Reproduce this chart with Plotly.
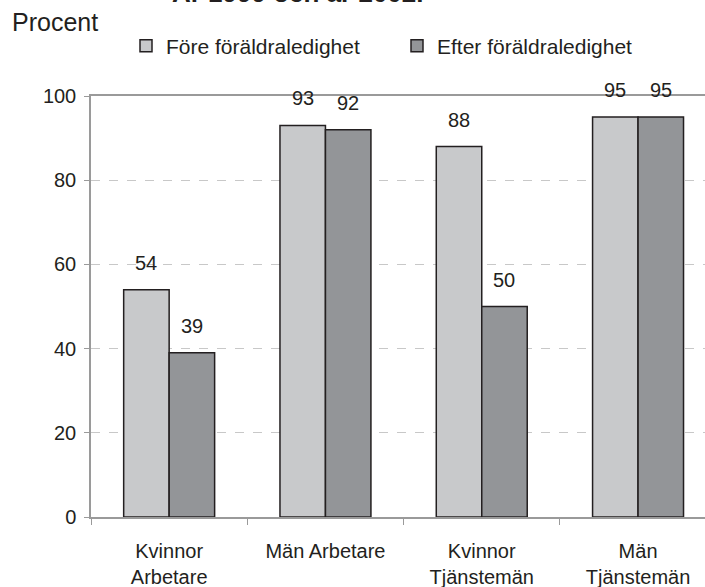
import plotly.graph_objects as go

categories = ["Kvinnor<br>Arbetare", "Män Arbetare", "Kvinnor<br>Tjänstemän", "Män<br>Tjänstemän"]
fore = [54, 93, 88, 95]
efter = [39, 92, 50, 95]
series_names = ["Före föräldraledighet", "Efter föräldraledighet"]
y_ticks = [0, 20, 40, 60, 80, 100]

W, H = 705, 587
L, R, T, B = 91, 0, 96, 70
pw, ph = W - L - R, H - T - B
CAT_W = 156.3
BARGAP = 0.418

def sx(x):
    return (x - L) / pw

def sy(y):
    return (H - B - y) / ph

FONT = "Liberation Sans, Arial, sans-serif"
TXT = "#231F20"
AX = "#9A9A9A"

fig = go.Figure()
colors = ["#C8C9CB", "#939598"]
for name, vals, col in [(series_names[0], fore, colors[0]), (series_names[1], efter, colors[1])]:
    fig.add_trace(go.Bar(
        x=categories, y=vals, name=name,
        marker=dict(color=col, line=dict(color=TXT, width=1.5)),
        cliponaxis=False,
    ))

half_bar = CAT_W * (1 - BARGAP) / 4
annotations = []
for vals, shift in [(fore, -half_bar), (efter, half_bar)]:
    for c, v in zip(categories, vals):
        annotations.append(dict(x=c, y=v, xref="x", yref="y", text=str(v), showarrow=False,
                                xshift=shift, yshift=27, xanchor="center", yanchor="middle",
                                font=dict(family=FONT, size=20, color=TXT)))

annotations += [
    dict(text="Procent", xref="paper", yref="paper", x=sx(10), y=sy(22),
         xanchor="left", yanchor="middle", showarrow=False,
         font=dict(family=FONT, size=25, color=TXT)),
    dict(text="<b>År 1999 och år 2002.</b>", xref="paper", yref="paper", x=sx(298), y=sy(10),
         xanchor="center", yanchor="bottom", showarrow=False,
         font=dict(family=FONT, size=26, color=TXT)),
]

fig.update_layout(
    width=W, height=H,
    margin=dict(l=L, r=R, t=T, b=B, pad=0, autoexpand=False),
    paper_bgcolor="white", plot_bgcolor="white",
    barmode="group", bargap=BARGAP, bargroupgap=0,
    font=dict(family=FONT, color=TXT),
    showlegend=True,
    legend=dict(orientation="h", x=sx(126), xanchor="left", y=sy(46), yanchor="middle",
                font=dict(family=FONT, size=21, color=TXT), itemwidth=30,
                entrywidth=226, entrywidthmode="pixels", bgcolor="rgba(0,0,0,0)",
                traceorder="normal"),
    xaxis=dict(range=[-0.5, -0.5 + pw / CAT_W], showline=True, linecolor=AX, linewidth=1.5,
               mirror=True, ticks="outside", tickson="boundaries", ticklen=6, tickcolor=AX,
               tickfont=dict(family=FONT, size=20, color=TXT), showgrid=False,
               ticklabelstandoff=15, automargin=False),
    yaxis=dict(range=[0, 100], tickvals=y_ticks, showline=True, linecolor=AX, linewidth=1.5,
               ticks="outside", ticklen=5, tickcolor=AX,
               tickfont=dict(family=FONT, size=20, color=TXT), ticklabelstandoff=4,
               showgrid=True, gridcolor="#C8C8C8", griddash="dash", gridwidth=1,
               zeroline=False, automargin=False),
    annotations=annotations,
)

fig.write_html("out.html", config={"displayModeBar": False},
               post_script="document.body.style.margin='0';")
